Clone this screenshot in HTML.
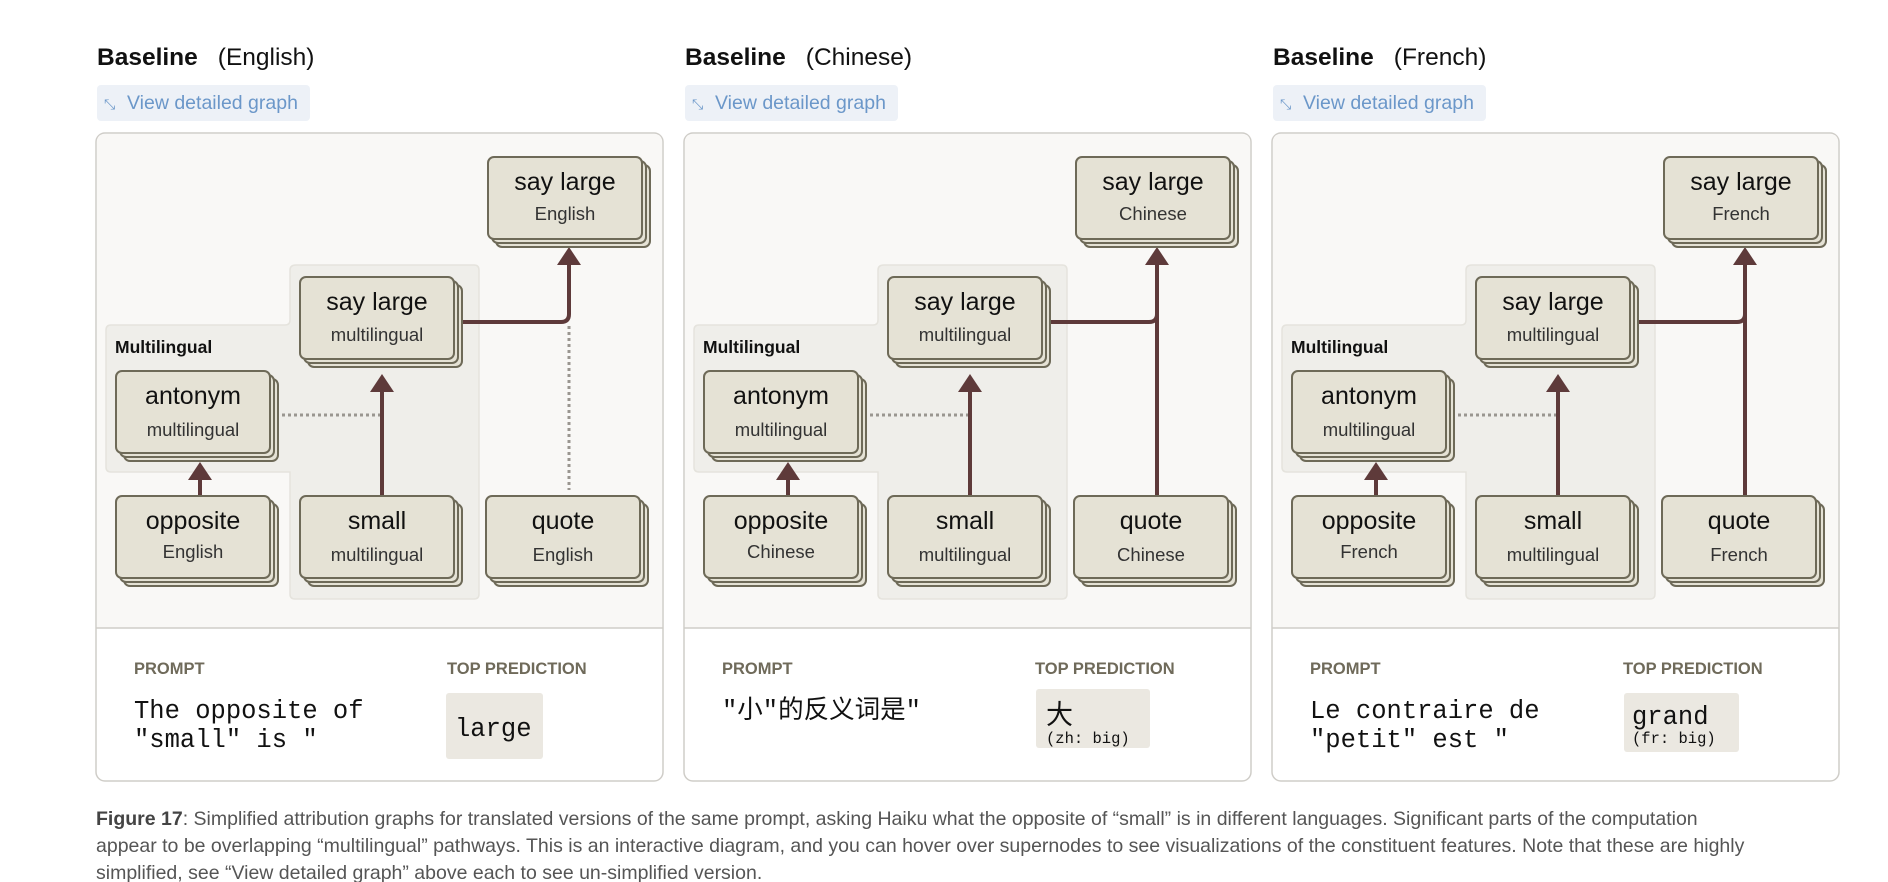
<!DOCTYPE html>
<html><head><meta charset="utf-8"><style>
html,body{margin:0;padding:0;background:#fff;width:1888px;height:882px;overflow:hidden}
svg{display:block}
text{font-family:"Liberation Sans","Noto Sans CJK SC",sans-serif}
.mono{font-family:"Liberation Mono","Noto Sans CJK SC",monospace}
</style></head><body>
<svg width="1888" height="882" viewBox="0 0 1888 882" xmlns="http://www.w3.org/2000/svg">
<defs>
<g id="panel">
  <rect x="96" y="133" width="567" height="648" rx="9" fill="#fff" stroke="#cfcdc8" stroke-width="1.5"/>
  <path d="M97,628 V142 Q97,134 105,134 H654 Q662,134 662,142 V628 Z" fill="#f9f8f6"/>
  <line x1="96" y1="628" x2="663" y2="628" stroke="#cfcdc8" stroke-width="1.5"/>
  <path d="M296,265 H474 Q479,265 479,270 V594 Q479,599 474,599 H295 Q290,599 290,594 V472 H111 Q106,472 106,467 V330 Q106,325 111,325 H285 Q290,325 290,320 V270 Q290,265 296,265 Z" fill="#efeeea" stroke="#e5e3dd" stroke-width="1.5"/>
  <text x="115" y="353" font-size="17.5" font-weight="bold" fill="#111">Multilingual</text>
  <rect x="97" y="85" width="213" height="36" rx="4" fill="#edf1f7"/>
  <text x="104" y="109" font-size="14" fill="#6b97c9">⤡</text>
  <text x="127" y="109" font-size="19.5" fill="#6b97c9">View detailed graph</text>
  <text x="134" y="674" font-size="16.5" font-weight="bold" fill="#6f6a5a">PROMPT</text>
  <text x="447" y="674" font-size="16.5" font-weight="bold" fill="#6f6a5a">TOP PREDICTION</text>
</g>
<g id="node">
  <rect x="8" y="8" width="154" height="82" rx="6" fill="#e5e2d5" stroke="#6e6a58" stroke-width="2"/>
  <rect x="4" y="4" width="154" height="82" rx="6" fill="#e5e2d5" stroke="#6e6a58" stroke-width="2"/>
  <rect x="0" y="0" width="154" height="82" rx="6" fill="#e5e2d5" stroke="#6e6a58" stroke-width="2"/>
</g>
</defs>

<!-- Panel 1 -->
<g>
  <use href="#panel"/>
  <text x="97" y="65" font-size="24.5" fill="#111"><tspan font-weight="bold">Baseline</tspan><tspan dx="20">(English)</tspan></text>
  <line x1="282" y1="415" x2="380" y2="415" stroke="#9a9690" stroke-width="3" stroke-dasharray="3,3"/>
  <line x1="569" y1="326" x2="569" y2="490" stroke="#9a9690" stroke-width="3" stroke-dasharray="3,3"/>
  <path d="M200,496 V478" stroke="#5e3a3a" stroke-width="4" fill="none"/>
  <polygon points="200,462 188,480 212,480" fill="#5e3a3a"/>
  <path d="M382,496 V390" stroke="#5e3a3a" stroke-width="4" fill="none"/>
  <polygon points="382,374 370,392 394,392" fill="#5e3a3a"/>
  <path d="M462,322 H561 Q569,322 569,314 V262" stroke="#5e3a3a" stroke-width="4" fill="none"/>
  <polygon points="569,247 557,265 581,265" fill="#5e3a3a"/>
  <g transform="translate(488,157)"><use href="#node"/><text x="77" y="33" font-size="25" text-anchor="middle" fill="#111">say large</text><text x="77" y="63" font-size="18.5" text-anchor="middle" fill="#333">English</text></g>
  <g transform="translate(300,277)"><use href="#node"/><text x="77" y="33" font-size="25" text-anchor="middle" fill="#111">say large</text><text x="77" y="64" font-size="18.5" text-anchor="middle" fill="#333">multilingual</text></g>
  <g transform="translate(116,371)"><use href="#node"/><text x="77" y="33" font-size="25" text-anchor="middle" fill="#111">antonym</text><text x="77" y="65" font-size="18.5" text-anchor="middle" fill="#333">multilingual</text></g>
  <g transform="translate(116,496)"><use href="#node"/><text x="77" y="33" font-size="25" text-anchor="middle" fill="#111">opposite</text><text x="77" y="62" font-size="18.5" text-anchor="middle" fill="#333">English</text></g>
  <g transform="translate(300,496)"><use href="#node"/><text x="77" y="33" font-size="25" text-anchor="middle" fill="#111">small</text><text x="77" y="65" font-size="18.5" text-anchor="middle" fill="#333">multilingual</text></g>
  <g transform="translate(486,496)"><use href="#node"/><text x="77" y="33" font-size="25" text-anchor="middle" fill="#111">quote</text><text x="77" y="65" font-size="18.5" text-anchor="middle" fill="#333">English</text></g>
  <text class="mono" x="134" y="718" font-size="25.5" fill="#111" xml:space="preserve">The opposite of</text>
  <text class="mono" x="134" y="747" font-size="25.5" fill="#111" xml:space="preserve">"small" is "</text>
  <rect x="446" y="693" width="97" height="66" rx="3" fill="#ebe8e1"/>
  <text class="mono" x="455" y="736" font-size="25.5" fill="#111">large</text>
</g>

<!-- Panel 2 -->
<g transform="translate(588,0)">
  <use href="#panel"/>
  <text x="97" y="65" font-size="24.5" fill="#111"><tspan font-weight="bold">Baseline</tspan><tspan dx="20">(Chinese)</tspan></text>
  <line x1="282" y1="415" x2="380" y2="415" stroke="#9a9690" stroke-width="3" stroke-dasharray="3,3"/>
  <path d="M200,496 V478" stroke="#5e3a3a" stroke-width="4" fill="none"/>
  <polygon points="200,462 188,480 212,480" fill="#5e3a3a"/>
  <path d="M382,496 V390" stroke="#5e3a3a" stroke-width="4" fill="none"/>
  <polygon points="382,374 370,392 394,392" fill="#5e3a3a"/>
  <path d="M462,322 H561 Q569,322 569,314 V262" stroke="#5e3a3a" stroke-width="4" fill="none"/>
  <path d="M569,496 V262" stroke="#5e3a3a" stroke-width="4" fill="none"/>
  <polygon points="569,247 557,265 581,265" fill="#5e3a3a"/>
  <g transform="translate(488,157)"><use href="#node"/><text x="77" y="33" font-size="25" text-anchor="middle" fill="#111">say large</text><text x="77" y="63" font-size="18.5" text-anchor="middle" fill="#333">Chinese</text></g>
  <g transform="translate(300,277)"><use href="#node"/><text x="77" y="33" font-size="25" text-anchor="middle" fill="#111">say large</text><text x="77" y="64" font-size="18.5" text-anchor="middle" fill="#333">multilingual</text></g>
  <g transform="translate(116,371)"><use href="#node"/><text x="77" y="33" font-size="25" text-anchor="middle" fill="#111">antonym</text><text x="77" y="65" font-size="18.5" text-anchor="middle" fill="#333">multilingual</text></g>
  <g transform="translate(116,496)"><use href="#node"/><text x="77" y="33" font-size="25" text-anchor="middle" fill="#111">opposite</text><text x="77" y="62" font-size="18.5" text-anchor="middle" fill="#333">Chinese</text></g>
  <g transform="translate(300,496)"><use href="#node"/><text x="77" y="33" font-size="25" text-anchor="middle" fill="#111">small</text><text x="77" y="65" font-size="18.5" text-anchor="middle" fill="#333">multilingual</text></g>
  <g transform="translate(486,496)"><use href="#node"/><text x="77" y="33" font-size="25" text-anchor="middle" fill="#111">quote</text><text x="77" y="65" font-size="18.5" text-anchor="middle" fill="#333">Chinese</text></g>
  <text class="mono" x="134" y="718" font-size="25.5" fill="#111" xml:space="preserve">"小"的反义词是"</text>
  <rect x="448" y="689" width="114" height="59" rx="3" fill="#ebe8e1"/>
  <text x="458" y="724" font-size="27" fill="#111">大</text>
  <text class="mono" x="458" y="743" font-size="15.5" fill="#111">(zh: big)</text>
</g>

<!-- Panel 3 -->
<g transform="translate(1176,0)">
  <use href="#panel"/>
  <text x="97" y="65" font-size="24.5" fill="#111"><tspan font-weight="bold">Baseline</tspan><tspan dx="20">(French)</tspan></text>
  <line x1="282" y1="415" x2="380" y2="415" stroke="#9a9690" stroke-width="3" stroke-dasharray="3,3"/>
  <path d="M200,496 V478" stroke="#5e3a3a" stroke-width="4" fill="none"/>
  <polygon points="200,462 188,480 212,480" fill="#5e3a3a"/>
  <path d="M382,496 V390" stroke="#5e3a3a" stroke-width="4" fill="none"/>
  <polygon points="382,374 370,392 394,392" fill="#5e3a3a"/>
  <path d="M462,322 H561 Q569,322 569,314 V262" stroke="#5e3a3a" stroke-width="4" fill="none"/>
  <path d="M569,496 V262" stroke="#5e3a3a" stroke-width="4" fill="none"/>
  <polygon points="569,247 557,265 581,265" fill="#5e3a3a"/>
  <g transform="translate(488,157)"><use href="#node"/><text x="77" y="33" font-size="25" text-anchor="middle" fill="#111">say large</text><text x="77" y="63" font-size="18.5" text-anchor="middle" fill="#333">French</text></g>
  <g transform="translate(300,277)"><use href="#node"/><text x="77" y="33" font-size="25" text-anchor="middle" fill="#111">say large</text><text x="77" y="64" font-size="18.5" text-anchor="middle" fill="#333">multilingual</text></g>
  <g transform="translate(116,371)"><use href="#node"/><text x="77" y="33" font-size="25" text-anchor="middle" fill="#111">antonym</text><text x="77" y="65" font-size="18.5" text-anchor="middle" fill="#333">multilingual</text></g>
  <g transform="translate(116,496)"><use href="#node"/><text x="77" y="33" font-size="25" text-anchor="middle" fill="#111">opposite</text><text x="77" y="62" font-size="18.5" text-anchor="middle" fill="#333">French</text></g>
  <g transform="translate(300,496)"><use href="#node"/><text x="77" y="33" font-size="25" text-anchor="middle" fill="#111">small</text><text x="77" y="65" font-size="18.5" text-anchor="middle" fill="#333">multilingual</text></g>
  <g transform="translate(486,496)"><use href="#node"/><text x="77" y="33" font-size="25" text-anchor="middle" fill="#111">quote</text><text x="77" y="65" font-size="18.5" text-anchor="middle" fill="#333">French</text></g>
  <text class="mono" x="134" y="718" font-size="25.5" fill="#111" xml:space="preserve">Le contraire de</text>
  <text class="mono" x="134" y="747" font-size="25.5" fill="#111" xml:space="preserve">"petit" est "</text>
  <rect x="448" y="693" width="115" height="59" rx="3" fill="#ebe8e1"/>
  <text class="mono" x="456" y="724" font-size="25.5" fill="#111">grand</text>
  <text class="mono" x="456" y="743" font-size="15.5" fill="#111">(fr: big)</text>
</g>

<!-- Caption -->
<text x="96" y="825" font-size="19.5" fill="#555"><tspan font-weight="bold" fill="#444">Figure 17</tspan>: Simplified attribution graphs for translated versions of the same prompt, asking Haiku what the opposite of “small” is in different languages. Significant parts of the computation</text>
<text x="96" y="852" font-size="19.5" fill="#555">appear to be overlapping “multilingual” pathways. This is an interactive diagram, and you can hover over supernodes to see visualizations of the constituent features. Note that these are highly</text>
<text x="96" y="879" font-size="19.5" fill="#555">simplified, see “View detailed graph” above each to see un-simplified version.</text>
</svg>
</body></html>
